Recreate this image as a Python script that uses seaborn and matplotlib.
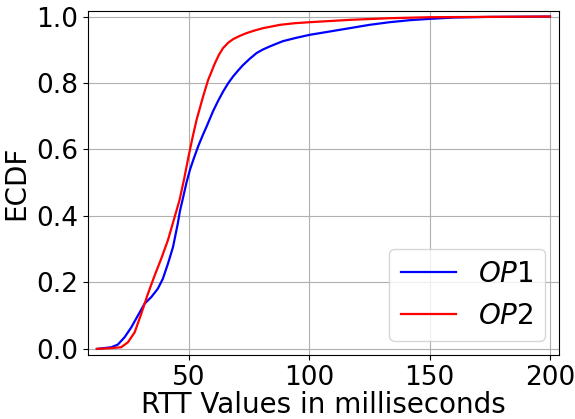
import numpy as np
import pandas as pd
import matplotlib
matplotlib.use("Agg")
import matplotlib.pyplot as plt
import seaborn as sns

# RTT values (ms) and ECDF values
op1_rtt = [11.8, 17.8, 20.5, 23.3, 26.1, 28.8, 31.6, 34.4, 37.1, 39.2, 41.3, 43.4,
           45.4, 46.3, 47.5, 49.0, 50.5, 52.0, 54.0, 55.9, 57.3, 60.1, 62.2, 64.2,
           66.3, 68.4, 70.5, 72.5, 75.3, 78.1, 80.8, 83.6, 86.3, 89.1, 94.6, 100.2,
           108.5, 116.8, 125.0, 133.4, 141.7, 150.0, 160.0, 175.0, 200.0]
op1_ecdf = [0.0, 0.005, 0.013, 0.035, 0.065, 0.10, 0.136, 0.156, 0.181, 0.211, 0.256, 0.306,
            0.377, 0.415, 0.452, 0.500, 0.540, 0.572, 0.612, 0.645, 0.668, 0.716, 0.747, 0.774,
            0.799, 0.820, 0.838, 0.854, 0.873, 0.890, 0.901, 0.910, 0.918, 0.926, 0.936, 0.945,
            0.955, 0.965, 0.975, 0.983, 0.989, 0.993, 0.997, 0.999, 1.0]

op2_rtt = [11.8, 17.0, 21.9, 24.7, 27.5, 30.2, 33.0, 35.8, 38.5, 41.3, 44.1, 46.1,
           48.0, 49.7, 51.5, 53.2, 55.9, 58.0, 60.8, 62.5, 64.2, 66.3, 68.4, 71.2,
           73.9, 77.3, 80.8, 87.8, 94.0, 100.2, 116.8, 133.4, 150.0, 175.0, 200.0]
op2_ecdf = [0.0, 0.002, 0.005, 0.02, 0.05, 0.105, 0.166, 0.221, 0.271, 0.327, 0.397, 0.447,
            0.51, 0.573, 0.635, 0.689, 0.759, 0.809, 0.859, 0.885, 0.905, 0.921, 0.932, 0.942,
            0.950, 0.958, 0.965, 0.975, 0.980, 0.983, 0.990, 0.995, 0.998, 0.999, 1.0]

labels = ["$OP1$", "$OP2$"]
colors = ["blue", "red"]

df = pd.concat([
    pd.DataFrame({"rtt": op1_rtt, "ecdf": op1_ecdf, "op": labels[0]}),
    pd.DataFrame({"rtt": op2_rtt, "ecdf": op2_ecdf, "op": labels[1]}),
])

fig = plt.figure(figsize=(5.75, 4.19), dpi=100)
ax = fig.add_axes([0.153, 0.153, 0.819, 0.821])
sns.lineplot(data=df, x="rtt", y="ecdf", hue="op", palette=colors, sort=False,
             estimator=None, linewidth=1.6, ax=ax)

ax.set_xlim(8.1, 203.7)
ax.set_ylim(-0.018, 1.017)
ax.set_xticks([50, 100, 150, 200])
ax.set_yticks([0.0, 0.2, 0.4, 0.6, 0.8, 1.0])
ax.tick_params(labelsize=19)
ax.grid(True, color="#b0b0b0", linewidth=0.8)
ax.set_xlabel("RTT Values in milliseconds", fontsize=20, labelpad=0)
ax.set_ylabel("ECDF", fontsize=20, labelpad=4)

handles, labs = ax.get_legend_handles_labels()
ax.legend(handles, labs, loc="lower right", fontsize=20)

fig.savefig("out.png", dpi=100)
